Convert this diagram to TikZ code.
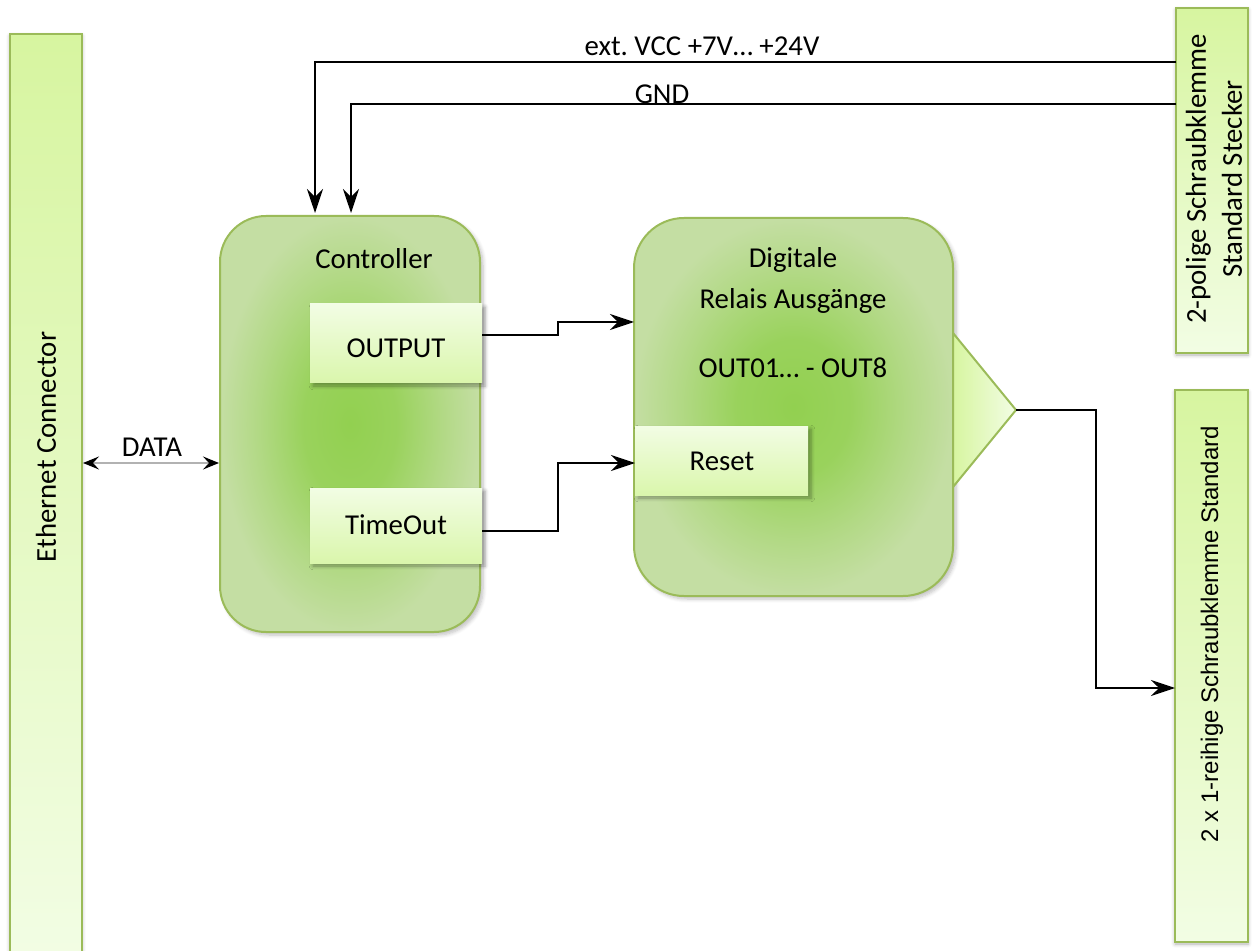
\documentclass[tikz,border=0pt]{standalone}
\usepackage{fontspec}
\setmainfont{Carlito}
\newfontfamily\arialf{Liberation Sans}
\usetikzlibrary{arrows.meta,shadows,shadows.blur,calc}
\definecolor{bordergreen}{HTML}{9BBB59}
\definecolor{lightA}{HTML}{D7F5A0}
\definecolor{lightB}{HTML}{F2FDE4}
\definecolor{lightC}{HTML}{DAF6AC}
\definecolor{midgreen}{HTML}{92D050}
\definecolor{palegreen}{HTML}{C4DEA3}
\pgfdeclareradialshading{greenglow}{\pgfpoint{0bp}{0bp}}{%
  color(0bp)=(midgreen); color(9bp)=(midgreen!85!palegreen); color(18bp)=(midgreen!35!palegreen);
  color(25bp)=(palegreen); color(50bp)=(palegreen)}
\frenchspacing
\begin{document}
\begin{tikzpicture}[x=0.5pt,y=-0.5pt,
  every node/.style={inner sep=0pt, outer sep=0pt},
  txt/.style={font=\fontsize{14.4}{17}\selectfont, text=black},
  bigbox/.style={draw=bordergreen, line width=1pt, shading=greenglow,
    blur shadow={shadow xshift=1.5pt, shadow yshift=-1.5pt, shadow blur steps=6, shadow opacity=25}},
  portbox/.style={top color=lightB, bottom color=lightC,
    blur shadow={shadow xshift=1.5pt, shadow yshift=-1.5pt, shadow blur steps=5, shadow opacity=35}},
  barbox/.style={draw=bordergreen, line width=1.2pt, top color=lightA, bottom color=lightB,
    blur shadow={shadow xshift=0pt, shadow yshift=-1pt, shadow blur steps=5, shadow opacity=30}},
  conn/.style={line width=1pt, -{Stealth[length=12pt,width=8pt,inset=4pt]}},
  dataarr/.style={line width=0.9pt, draw=black!30, {Stealth[length=8pt,width=6.5pt,inset=3pt,black]}-{Stealth[length=8pt,width=6.5pt,inset=3pt,black]}},
]
\useasboundingbox (0,0) rectangle (1256,951);

% Ethernet connector bar
\node[barbox, minimum width=36pt, minimum height=463pt] (eth) at (46,497) {};
\node[txt, rotate=90] (ethtxt) at (46,447) {Ethernet Connector};

% Controller
\node[bigbox, rounded corners=23pt, minimum width=130pt, minimum height=208pt] (ctrl) at (350,424) {};
\node[txt] (ctrltxt) at (374,259) {Controller};
\node[portbox, minimum width=86pt, minimum height=39.5pt] (outb) at (396,343.5) {};
\node[txt] (outtxt) at (396,348) {OUTPUT};
\node[portbox, minimum width=86pt, minimum height=37.5pt] (tob) at (396,525.5) {};
\node[txt] (totxt) at (396,525) {TimeOut};

% Digital relay outputs
\node[bigbox, rounded corners=25pt, minimum width=159.5pt, minimum height=189pt] (dig) at (793.5,407) {};
\node[txt, align=center, font=\fontsize{14.4}{20.5}\selectfont] (digtxt) at (793,280) {Digitale\\Relais Ausgänge};
\node[txt] (digout) at (793,368) {OUT01… - OUT8};
\node[portbox, minimum width=86.5pt, minimum height=34.5pt] (reset) at (721.5,460.5) {};
\node[txt] (resettxt) at (722,461) {Reset};

% output triangle
\path[draw=bordergreen, line width=1pt, left color=lightA, right color=lightB]
  (953,333) -- (1016,410) -- (953,487) -- cycle;
\coordinate (tip) at (1016,410);

% right connectors
\node[barbox, minimum width=36pt, minimum height=172.5pt] (pwr) at (1212,180.5) {};
\node[txt, rotate=90, align=center, font=\fontsize{14.4}{18}\selectfont] (pwrtxt) at (1214,179) {2-polige Schraubklemme\\Standard Stecker};
\node[barbox, minimum width=36.5pt, minimum height=276pt] (term) at (1211.5,666) {};
\node[rotate=90, font=\arialf\fontsize{12}{14}\selectfont] (termtxt) at (1212,634) {2 x 1-reihige Schraubklemme Standard};

% connectors
\coordinate (vccR) at ($(pwr.west)+(0,-118.5)$);
\coordinate (gndR) at ($(pwr.west)+(0,-76.5)$);
\draw[conn] (vccR) -| ($(ctrl.north)+(-35,-3)$);
\draw[conn] (gndR) -| ($(ctrl.north)+(1,-3)$);
\node[txt] (vcclbl) at (702,46) {ext. VCC +7V… +24V};
\node[txt] (gndlbl) at (662,94) {GND};

\coordinate (dataR) at ($(ctrl.west)+(-1,39)$);
\draw[dataarr] ($(eth.east |- dataR)+(1,0)$) -- (dataR);
\node[txt] (datalbl) at (152,447) {DATA};

\coordinate (outS) at ($(outb.east)+(0,-8)$);
\draw[conn] (outS) -- ($(outS)+(76,0)$) |- ($(dig.west)+(0,-85)$);
\coordinate (toS) at ($(tob.east)+(0,5.5)$);
\draw[conn] (toS) -- ($(toS)+(76,0)$) |- ($(reset.west)+(0,2.5)$);
\draw[conn] (tip) -- ($(tip)+(80,0)$) |- ($(term.west)+(0,22)$);
\end{tikzpicture}
\end{document}
